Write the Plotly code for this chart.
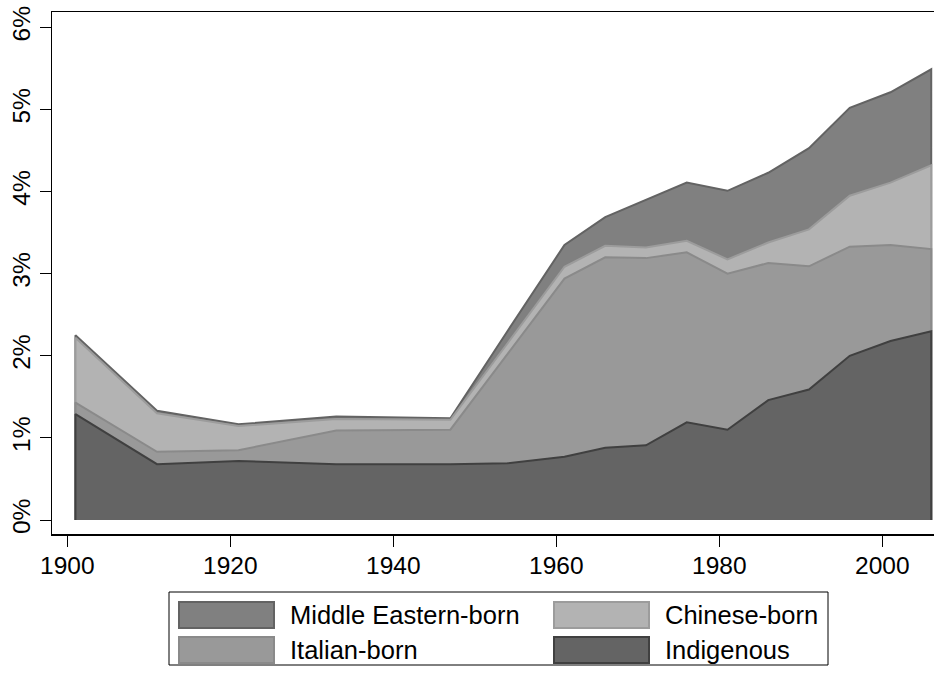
import numpy as np
import plotly.graph_objects as go

# ---- data (percent of population) ----
years = [1901, 1911, 1921, 1933, 1947, 1954, 1961, 1966, 1971, 1976, 1981, 1986, 1991, 1996, 2001, 2006]
indigenous = [1.29, 0.68, 0.72, 0.68, 0.68, 0.69, 0.77, 0.88, 0.91, 1.19, 1.10, 1.46, 1.59, 2.00, 2.18, 2.30]
italian_born = [0.14, 0.15, 0.13, 0.41, 0.42, 1.33, 2.17, 2.32, 2.28, 2.07, 1.90, 1.67, 1.50, 1.33, 1.17, 1.00]
chinese_born = [0.79, 0.47, 0.295, 0.14, 0.12, 0.13, 0.145, 0.14, 0.13, 0.14, 0.175, 0.25, 0.45, 0.62, 0.76, 1.02]
middle_eastern_born = [0.03, 0.03, 0.02, 0.03, 0.02, 0.15, 0.265, 0.35, 0.58, 0.71, 0.835, 0.85, 0.99, 1.07, 1.10, 1.17]

series_names = ["Indigenous", "Italian-born", "Chinese-born", "Middle Eastern-born"]
series_values = [indigenous, italian_born, chinese_born, middle_eastern_born]
y_tick_values = [0, 1, 2, 3, 4, 5, 6]
y_tick_labels = ["0%", "1%", "2%", "3%", "4%", "5%", "6%"]
x_tick_values = [1900, 1920, 1940, 1960, 1980, 2000]
x_tick_labels = ["1900", "1920", "1940", "1960", "1980", "2000"]

# ---- styles ----
fills = {"Indigenous": "#646464", "Italian-born": "#999999",
         "Chinese-born": "#b3b3b3", "Middle Eastern-born": "#808080"}
outlines = {"Indigenous": "#404040", "Italian-born": "#8a8a8a",
            "Chinese-born": "#9c9c9c", "Middle Eastern-born": "#636363"}

FONT = "Arial, Liberation Sans, Helvetica, sans-serif"
W, H = 934, 675
# plot area in page pixels: x 52..934, y 12..534
L, R, T, B = 52, 0, 12, 675 - 534

cum = np.cumsum(np.array(series_values, dtype=float), axis=0)

fig = go.Figure()
# draw from the tallest (total) down so outlines show as in Stata
for i in reversed(range(len(series_names))):
    name = series_names[i]
    xs = [years[0]] + list(years) + [years[-1]]
    ys = [0.0] + list(cum[i]) + [0.0]
    fig.add_trace(go.Scatter(
        x=xs, y=ys, mode="lines", fill="toself",
        fillcolor=fills[name], line=dict(color=outlines[name], width=2),
        name=name, showlegend=False, hoverinfo="skip"))

fig.update_layout(
    width=W, height=H,
    margin=dict(l=L, r=R, t=T, b=B, autoexpand=False),
    paper_bgcolor="white", plot_bgcolor="white",
    font=dict(family=FONT, size=24, color="black"),
    showlegend=False,
)
fig.update_xaxes(
    range=[1898.12, 2006.34], tickmode="array",
    tickvals=x_tick_values, ticktext=x_tick_labels, automargin=False,
    showgrid=False, zeroline=False,
    showline=True, linecolor="black", linewidth=1.5, mirror=True,
    ticks="outside", ticklen=11, tickwidth=1, tickcolor="black",
    ticklabelstandoff=-2, ticklabeloverflow="allow",
    tickfont=dict(size=24.5, family=FONT),
)
fig.update_yaxes(
    range=[-0.1705, 6.188], tickmode="array",
    tickvals=y_tick_values, ticktext=y_tick_labels, automargin=False,
    tickangle=-90, ticklabeloverflow="allow",
    showgrid=False, zeroline=False,
    showline=True, linecolor="black", linewidth=1.5, mirror=True,
    ticks="outside", ticklen=11, tickwidth=1, tickcolor="black",
    tickfont=dict(size=24.5, family=FONT),
)

# ---- custom legend (Stata style, two columns), page-pixel positions ----
def px(xp):
    return (xp - L) / (W - L - R)

def py(yp):
    return (H - B - yp) / (H - B - T)

shapes = [dict(type="rect", xref="paper", yref="paper",
               x0=px(169), x1=px(828), y0=py(592), y1=py(665),
               line=dict(color="black", width=1), fillcolor="white", layer="above")]
annotations = []
legend_layout = [("Middle Eastern-born", 179, 602), ("Chinese-born", 554, 602),
                 ("Italian-born", 179, 637), ("Indigenous", 554, 637)]
for name, sx, sy in legend_layout:
    shapes.append(dict(type="rect", xref="paper", yref="paper",
                       x0=px(sx), x1=px(sx + 95), y0=py(sy), y1=py(sy + 26),
                       line=dict(color=outlines[name], width=2),
                       fillcolor=fills[name], layer="above"))
    annotations.append(dict(xref="paper", yref="paper", x=px(sx + 109), y=py(sy + 13),
                            text=name, showarrow=False, xanchor="left", yanchor="middle",
                            font=dict(family=FONT, size=25.5, color="black")))
fig.update_layout(shapes=shapes, annotations=annotations)

fig.write_html(
    "out.html",
    config={"displayModeBar": False, "staticPlot": True},
    post_script="document.body.style.margin='0px';document.body.style.overflow='hidden';",
)
